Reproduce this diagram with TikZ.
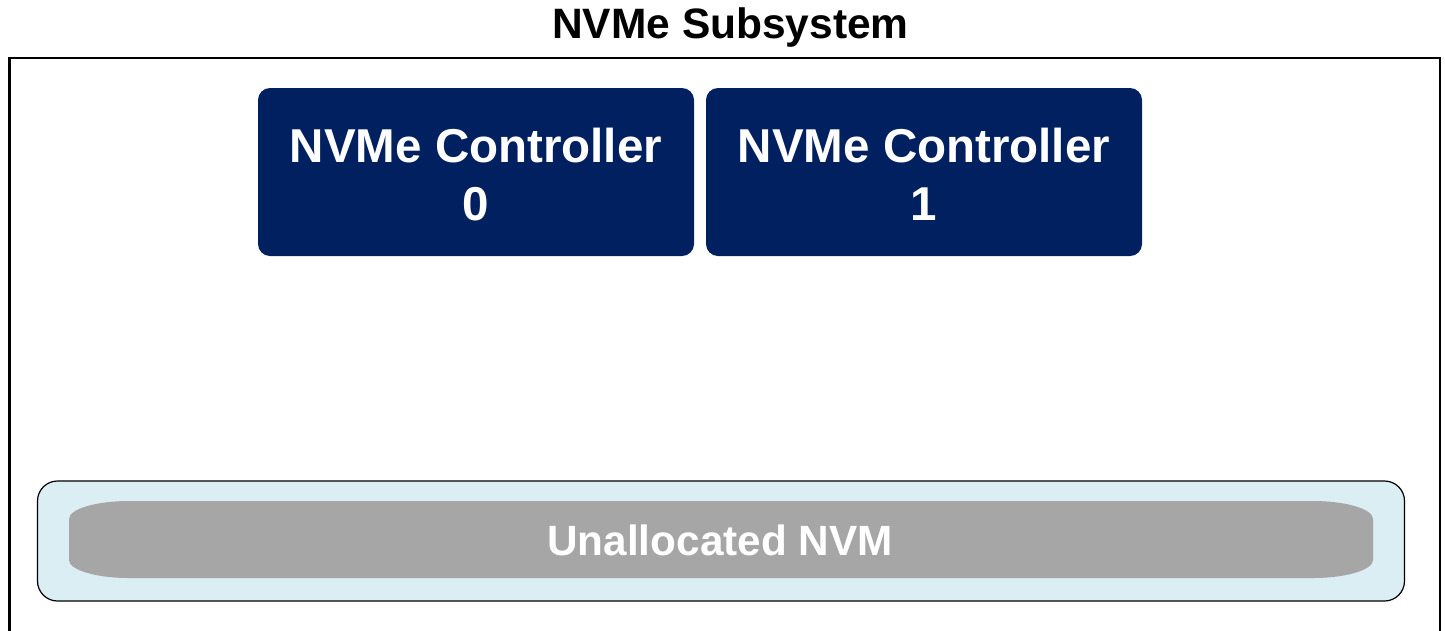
\documentclass[tikz,border=0pt]{standalone}
\usepackage{fontspec}
\setmainfont{Liberation Sans}
\definecolor{ctrlnavy}{HTML}{002060}
\definecolor{poolblue}{HTML}{DAEEF3}
\definecolor{nvmgray}{HTML}{A6A6A6}
\tikzset{
  ctrlbox/.style={draw=none, fill=ctrlnavy, rounded corners=12pt,
    minimum width=436pt, minimum height=168pt, inner sep=0pt,
    align=center, text=white,
    font=\bfseries\fontsize{47.5}{58}\selectfont},
  poolbox/.style={draw=black, line width=1.2pt, fill=poolblue,
    rounded corners=20pt, minimum width=1367pt, minimum height=120pt, inner sep=0pt},
  framebox/.style={draw=black, line width=2.5pt},
  bigtitle/.style={font=\bfseries\fontsize{42.5}{50}\selectfont, inner sep=0pt},
  nvmlabel/.style={font=\bfseries\fontsize{42.3}{50}\selectfont, text=white, inner sep=0pt}
}
\begin{document}
\begin{tikzpicture}[x=1pt,y=1pt]
  \useasboundingbox (0,0) rectangle (1445,-630);
  % subsystem frame, running off the bottom of the page
  \begin{scope}
    \clip (0,0) rectangle (1445,-630);
    \draw[framebox] (9.5,-58) rectangle (1440,-660);
  \end{scope}
  \node[bigtitle, anchor=base] (title) at (730.5,-38) {NVMe Subsystem};

  % controllers
  \node[ctrlbox] (c0) at (476,-172) {};
  \node[ctrlbox] (c1) at (924,-172) {};
  \node[ctrlbox, fill=none, rounded corners=0pt] (c0text) at (476,-174.5) {NVMe Controller\\0};
  \node[ctrlbox, fill=none, rounded corners=0pt] (c1text) at (924,-174.5) {NVMe Controller\\1};

  % namespace pool with the unallocated capacity
  \node[poolbox] (pool) at (721,-541) {};
  \fill[nvmgray] (129,-501) -- (1313,-501)
    arc[start angle=90, end angle=0, x radius=60, y radius=18] -- (1373,-560)
    arc[start angle=0, end angle=-90, x radius=60, y radius=18] -- (129,-578)
    arc[start angle=270, end angle=180, x radius=60, y radius=18] -- (69,-519)
    arc[start angle=180, end angle=90, x radius=60, y radius=18] -- cycle;
  \node[nvmlabel, anchor=base] (nvm) at (720,-555) {Unallocated NVM};
\end{tikzpicture}
\end{document}
